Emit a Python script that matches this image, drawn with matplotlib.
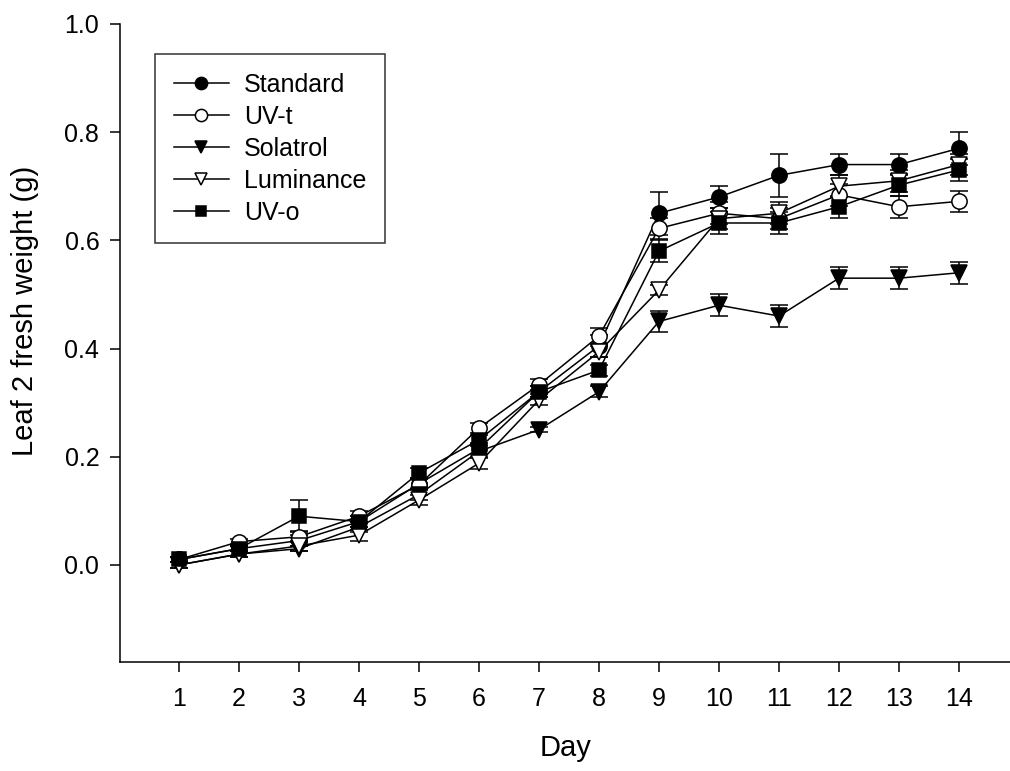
import matplotlib
matplotlib.use("Agg")
import matplotlib.pyplot as plt
from matplotlib.lines import Line2D

plt.rcParams['font.family'] = ['Liberation Sans', 'DejaVu Sans']

days = [1, 2, 3, 4, 5, 6, 7, 8, 9, 10, 11, 12, 13, 14]

standard = [0.01, 0.03, 0.045, 0.08, 0.15, 0.215, 0.32, 0.405, 0.65, 0.68, 0.72, 0.74, 0.74, 0.77]
standard_err = [0.005, 0.005, 0.01, 0.01, 0.01, 0.01, 0.01, 0.02, 0.04, 0.02, 0.04, 0.02, 0.02, 0.03]

uv_t = [0.01, 0.043, 0.052, 0.09, 0.148, 0.253, 0.333, 0.423, 0.622, 0.65, 0.64, 0.684, 0.662, 0.672]
uv_t_err = [0.005, 0.005, 0.01, 0.01, 0.01, 0.01, 0.01, 0.015, 0.02, 0.02, 0.02, 0.02, 0.02, 0.02]

solatrol = [0.0, 0.02, 0.03, 0.07, 0.13, 0.21, 0.25, 0.32, 0.45, 0.48, 0.46, 0.53, 0.53, 0.54]
solatrol_err = [0.005, 0.005, 0.005, 0.01, 0.01, 0.01, 0.005, 0.01, 0.02, 0.02, 0.02, 0.02, 0.02, 0.02]

luminance = [0.0, 0.02, 0.035, 0.055, 0.12, 0.188, 0.305, 0.394, 0.508, 0.64, 0.65, 0.70, 0.71, 0.74]
luminance_err = [0.005, 0.005, 0.01, 0.01, 0.01, 0.01, 0.01, 0.01, 0.01, 0.02, 0.02, 0.02, 0.02, 0.02]

uv_o = [0.01, 0.03, 0.09, 0.08, 0.17, 0.231, 0.32, 0.36, 0.58, 0.632, 0.632, 0.662, 0.702, 0.73]
uv_o_err = [0.005, 0.005, 0.03, 0.01, 0.01, 0.01, 0.01, 0.01, 0.02, 0.02, 0.02, 0.02, 0.02, 0.02]

series = [
    ("Standard", standard, standard_err, "o", "black", 11),
    ("UV-t", uv_t, uv_t_err, "o", "white", 11),
    ("Solatrol", solatrol, solatrol_err, "v", "black", 11.5),
    ("Luminance", luminance, luminance_err, "v", "white", 11.5),
    ("UV-o", uv_o, uv_o_err, "s", "black", 9.5),
]

fig = plt.figure(figsize=(10.1, 7.71), dpi=100)
ax = fig.add_axes([0.119, 0.141, 0.881, 0.828])

handles = []
for name, vals, errs, mk, fc, ms in series:
    ax.errorbar(days, vals, yerr=errs, color="black", linewidth=1.1,
                marker=mk, markersize=ms, markerfacecolor=fc,
                markeredgecolor="black", markeredgewidth=1.1,
                capsize=6.5, capthick=1.1, elinewidth=1.1)
    handles.append(Line2D([], [], color="black", linewidth=1.1, marker=mk,
                          markersize=ms * 0.8, markerfacecolor=fc,
                          markeredgecolor="black", markeredgewidth=1.1, label=name))

ax.set_xlim(0.02, 14.85)
ax.set_ylim(-0.18, 1.0)
ax.set_xticks(days)
ax.set_yticks([0.0, 0.2, 0.4, 0.6, 0.8, 1.0])
ax.set_yticklabels(["0.0", "0.2", "0.4", "0.6", "0.8", "1.0"])

ax.spines['top'].set_visible(False)
ax.spines['right'].set_visible(False)
ax.spines['left'].set_linewidth(1.1)
ax.spines['bottom'].set_linewidth(1.1)
ax.tick_params(direction='out', length=7, width=1.1, labelsize=18)
ax.tick_params(axis='x', pad=11)
ax.tick_params(axis='y', pad=8)

ax.set_xlabel("Day", fontsize=21, labelpad=16)
ax.set_ylabel("Leaf 2 fresh weight (g)", fontsize=21)
ax.yaxis.set_label_coords(-0.091, 0.55)

leg = ax.legend(handles=handles, loc='upper left', bbox_to_anchor=(0.039, 0.953),
                fontsize=18, frameon=True, fancybox=False, edgecolor='black',
                handlelength=2.2, handletextpad=0.6, labelspacing=0.32,
                borderpad=0.75, borderaxespad=0)
leg.get_frame().set_linewidth(1.1)

fig.savefig("out.png", dpi=100)
